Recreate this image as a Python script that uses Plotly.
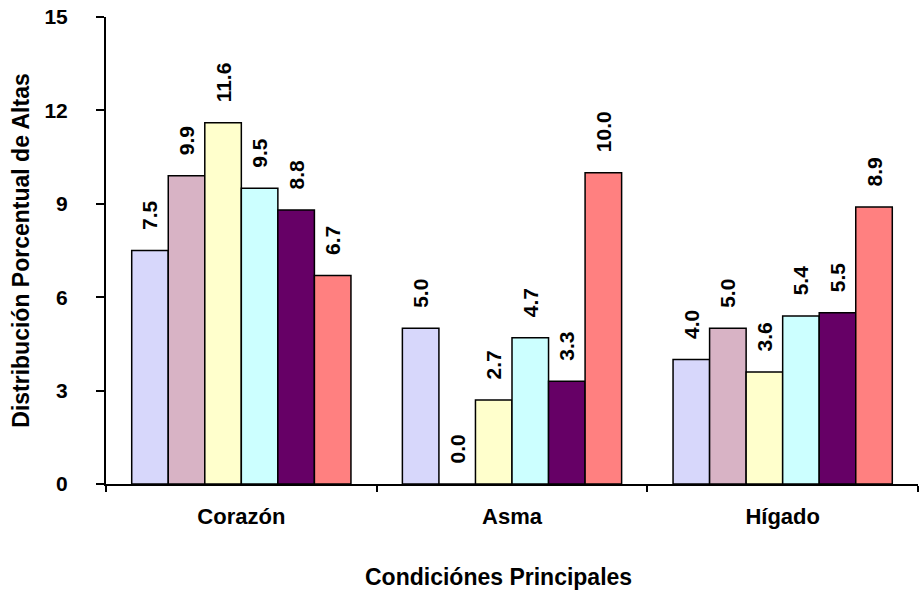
import plotly.graph_objects as go

categories = ["Corazón", "Asma", "Hígado"]
series_names = ["Serie 1", "Serie 2", "Serie 3", "Serie 4", "Serie 5", "Serie 6"]
values = [
    [7.5, 5.0, 4.0],
    [9.9, 0.0, 5.0],
    [11.6, 2.7, 3.6],
    [9.5, 4.7, 5.4],
    [8.8, 3.3, 5.5],
    [6.7, 10.0, 8.9],
]
colors = ["#D7D7FB", "#D8B3C5", "#FFFFCC", "#CCFFFF", "#660066", "#FF8080"]
y_ticks = [0, 3, 6, 9, 12, 15]

font_family = "Liberation Sans, Arial, sans-serif"
pad = "\u00a0\u00a0\u00a0"

fig = go.Figure()
for name, vals, col in zip(series_names, values, colors):
    fig.add_trace(go.Bar(
        x=categories, y=vals, name=name,
        marker=dict(color=col, line=dict(color="black", width=1.5)),
        text=[pad + f"{v:.1f}" for v in vals],
        textposition="outside", textangle=-90, constraintext="none",
        textfont=dict(family=font_family, size=21, color="black", weight="bold"),
        cliponaxis=False,
    ))

fig.update_layout(
    width=921, height=594,
    margin=dict(l=106, r=3, t=17, b=110, autoexpand=False),
    paper_bgcolor="white", plot_bgcolor="white",
    barmode="group", bargap=0.19, bargroupgap=0,
    showlegend=False,
    font=dict(family=font_family, color="black"),
    annotations=[dict(
        text="<b>Condiciónes Principales</b>", xref="paper", yref="paper",
        x=0.483, y=-0.2, xanchor="center", yanchor="middle", showarrow=False,
        font=dict(family=font_family, size=23, color="black"),
    )],
)
fig.update_xaxes(
    showline=True, linecolor="black", linewidth=2,
    ticks="outside", tickson="boundaries", ticklen=6, tickwidth=1.5, tickcolor="black",
    tickfont=dict(family=font_family, size=22, weight="bold"),
    ticklabelstandoff=12,
    showgrid=False, automargin=False,
)
fig.update_yaxes(
    range=[0, 15], tickvals=y_ticks, ticktext=[str(t) for t in y_ticks],
    showline=True, linecolor="black", linewidth=2,
    ticks="outside", ticklen=8, tickwidth=1.5, tickcolor="black",
    tickfont=dict(family=font_family, size=21, weight="bold"),
    ticklabelstandoff=24, ticklabeloverflow="allow",
    title=dict(text="<b>Distribución Porcentual de Altas</b>", font=dict(size=23), standoff=8),
    showgrid=False, zeroline=False, automargin=False,
)

fig.write_html(
    "out.html",
    config={"displayModeBar": False},
    post_script="document.body.style.margin='0px';document.body.style.overflow='hidden';",
)
